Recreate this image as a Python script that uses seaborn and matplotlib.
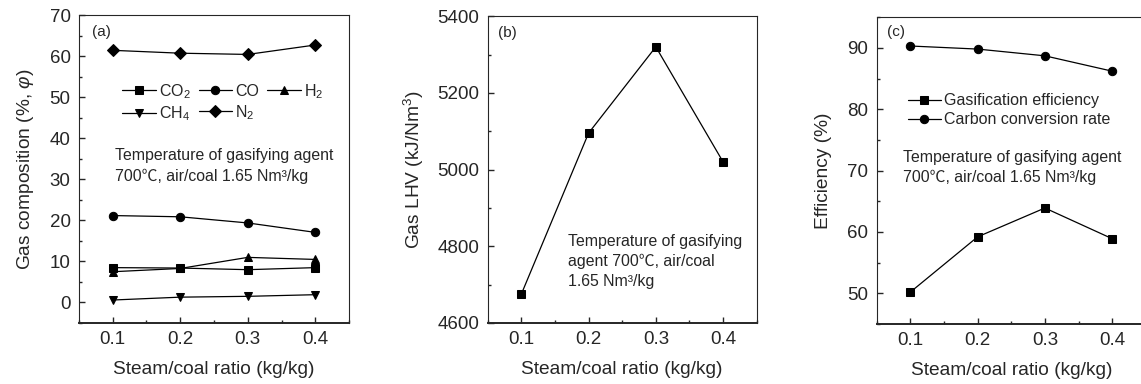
import pandas as pd
import matplotlib
matplotlib.use("Agg")
import matplotlib.pyplot as plt
import seaborn as sns
from matplotlib.ticker import MultipleLocator

sns.set_style("ticks")
plt.rcParams['font.family'] = ['Liberation Sans', 'Noto Sans CJK SC', 'DejaVu Sans']
plt.rcParams['mathtext.fontset'] = 'custom'
plt.rcParams['mathtext.rm'] = 'Liberation Sans'
plt.rcParams['mathtext.it'] = 'Liberation Sans:italic'

# data
ratio = [0.1, 0.2, 0.3, 0.4]
co2 = [8.5, 8.4, 8.0, 8.5]
co = [21.2, 20.9, 19.4, 17.1]
h2 = [7.5, 8.3, 11.0, 10.5]
ch4 = [0.6, 1.3, 1.5, 1.9]
n2 = [61.5, 60.8, 60.5, 62.8]
lhv = [4675, 5095, 5320, 5020]
gas_eff = [50.2, 59.2, 63.9, 58.9]
carbon_conv = [90.3, 89.8, 88.7, 86.2]

gas_names = ["CO$_2$", "CO", "H$_2$", "CH$_4$", "N$_2$"]
gas_markers = ["s", "o", "^", "v", "D"]
df_a = pd.DataFrame({"ratio": ratio * 5,
                     "value": co2 + co + h2 + ch4 + n2,
                     "gas": [g for g in gas_names for _ in ratio]})
df_b = pd.DataFrame({"ratio": ratio, "lhv": lhv})
eff_names = ["Gasification efficiency", "Carbon conversion rate"]
df_c = pd.DataFrame({"ratio": ratio * 2,
                     "value": gas_eff + carbon_conv,
                     "kind": [k for k in eff_names for _ in ratio]})

note = "Temperature of gasifying agent\n700\u2103, air/coal 1.65 Nm\u00b3/kg"
note_b = "Temperature of gasifying\nagent 700\u2103, air/coal\n1.65 Nm\u00b3/kg"

fig = plt.figure(figsize=(11.41, 3.84), dpi=100)
ax1 = fig.add_axes([0.0692, 0.1589, 0.2367, 0.8008])
ax2 = fig.add_axes([0.4274, 0.1589, 0.2358, 0.7990])
ax3 = fig.add_axes([0.7684, 0.1563, 0.2358, 0.7990])

kw = dict(color="black", linewidth=0.9, markersize=6, markeredgecolor="black")

sns.lineplot(data=df_a, x="ratio", y="value", hue="gas", style="gas",
             markers=dict(zip(gas_names, gas_markers)), dashes=False,
             palette=["black"] * 5, ax=ax1, linewidth=0.9, markersize=6,
             markeredgecolor="black")
sns.lineplot(data=df_b, x="ratio", y="lhv", marker="s", ax=ax2, **kw)
sns.lineplot(data=df_c, x="ratio", y="value", hue="kind", style="kind",
             markers={eff_names[0]: "s", eff_names[1]: "o"}, dashes=False,
             palette=["black"] * 2, ax=ax3, linewidth=0.9, markersize=6,
             markeredgecolor="black")

for ax in (ax1, ax2, ax3):
    ax.set_xlim(0.05, 0.45)
    ax.xaxis.set_major_locator(MultipleLocator(0.1))
    ax.xaxis.set_minor_locator(MultipleLocator(0.05))
    ax.tick_params(which="both", direction="in", labelsize=13.5, width=1)
    ax.tick_params(which="major", length=4, pad=6)
    ax.tick_params(which="minor", length=2.5)
    ax.set_xlabel("Steam/coal ratio (kg/kg)", fontsize=13.8, labelpad=9)
    for s in ax.spines.values():
        s.set_linewidth(0.8)
    ax.spines["bottom"].set_linewidth(1.4)

ax1.set_ylim(-5, 70)
ax1.yaxis.set_major_locator(MultipleLocator(10))
ax1.yaxis.set_minor_locator(MultipleLocator(5))
ax1.set_ylabel("Gas composition (%, $\\varphi$)", fontsize=13.8, labelpad=10)
ax1.text(0.047, 0.946, "(a)", transform=ax1.transAxes, fontsize=11, va="center")
h, l = ax1.get_legend_handles_labels()
order = [0, 3, 1, 4, 2]
ax1.legend([h[i] for i in order], [l[i] for i in order], ncol=3,
           loc="upper left", bbox_to_anchor=(0.13, 0.81), frameon=False,
           fontsize=11.5, handlelength=2.1, columnspacing=0.5,
           handletextpad=0.2, labelspacing=0.25, borderpad=0)
ax1.text(0.133, 0.51, note, transform=ax1.transAxes, fontsize=11.4,
         va="center", linespacing=1.45)

ax2.set_ylim(4600, 5400)
ax2.yaxis.set_major_locator(MultipleLocator(200))
ax2.yaxis.set_minor_locator(MultipleLocator(100))
ax2.set_ylabel("Gas LHV (kJ/Nm$^3$)", fontsize=13.8, labelpad=8)
ax2.text(0.037, 0.945, "(b)", transform=ax2.transAxes, fontsize=11, va="center")
ax2.text(0.3, 0.2, note_b, transform=ax2.transAxes, fontsize=11.4,
         va="center", linespacing=1.4)

ax3.set_ylim(45, 95)
ax3.yaxis.set_major_locator(MultipleLocator(10))
ax3.yaxis.set_minor_locator(MultipleLocator(5))
ax3.set_ylabel("Efficiency (%)", fontsize=13.8, labelpad=11)
ax3.text(0.037, 0.951, "(c)", transform=ax3.transAxes, fontsize=11, va="center")
ax3.legend(loc="upper left", bbox_to_anchor=(0.085, 0.778), frameon=False,
           fontsize=11.5, handlelength=2.1, handletextpad=0.2,
           labelspacing=0.25, borderpad=0)
ax3.text(0.097, 0.51, note, transform=ax3.transAxes, fontsize=11.4,
         va="center", linespacing=1.45)

fig.savefig("out.png", dpi=100)
